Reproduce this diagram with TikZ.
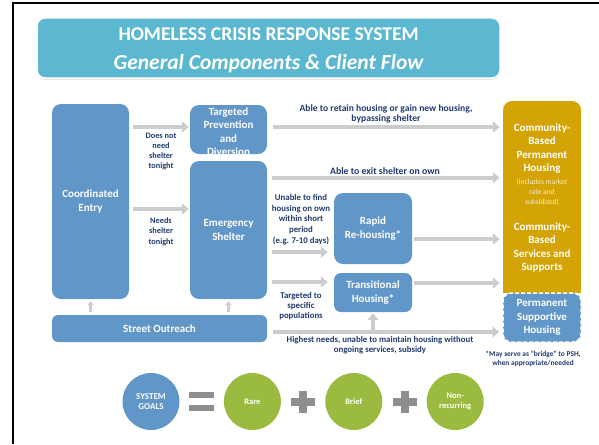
\documentclass[tikz,border=0pt]{standalone}
\usepackage{fontspec}
\setmainfont{Carlito}
\usetikzlibrary{arrows.meta,positioning,calc,shadows}
\definecolor{titleblue}{HTML}{5CB8D0}
\definecolor{boxblue}{HTML}{6196C9}
\definecolor{boxgold}{HTML}{D4A406}
\definecolor{leaf}{HTML}{9BBB40}
\definecolor{flowgray}{HTML}{CCCCCC}
\definecolor{signgray}{HTML}{8E8E8E}
\definecolor{navy}{HTML}{1F3A6E}
\definecolor{paletxt}{HTML}{F8EBC0}
\tikzset{x=1pt, y=-1pt,
  box/.style={fill=boxblue, rounded corners=9pt, text=white, align=center, inner sep=0pt,
    font=\bfseries\fontsize{11}{13.5}\selectfont},
  boxtxt/.style={text=white, align=center, inner sep=0pt, font=\bfseries\fontsize{11}{13.5}\selectfont},
  flow/.style={draw=flowgray, line width=4.5pt, -{Triangle[length=7pt,width=11pt]}},
  upflow/.style={draw=flowgray, line width=2.5pt, -{Triangle[length=4pt,width=6.5pt]}},
  lbl/.style={text=navy, align=center, inner sep=0pt, font=\bfseries\fontsize{8.8}{10}\selectfont},
  goal/.style={circle, minimum size=57pt, inner sep=0pt, text=white, align=center,
    font=\bfseries\fontsize{8.5}{10}\selectfont},
}

\begin{document}
\begin{tikzpicture}
  \useasboundingbox (0,0) rectangle (599,444);
  \draw[line width=2pt] (12.5,444) -- (12.5,3.5) -- (599,3.5);

  % title
  \node[fill=titleblue, draw=white, line width=1.5pt, rounded corners=8pt,
        drop shadow={shadow xshift=0pt, shadow yshift=-1.5pt, opacity=.3},
        minimum width=463pt, minimum height=60pt] (ttl) at (268.5,48) {};
  \node[text=white, align=center, inner sep=0pt, font=\bfseries\fontsize{19.5}{29}\selectfont] (ttltxt) at (268.5,50)
    {HOMELESS CRISIS RESPONSE SYSTEM\\{\itshape\fontsize{21.5}{29}\selectfont General Components \& Client Flow}};

  % boxes
  \node[box, minimum width=77pt, minimum height=195pt] (ce) at (90.5,201.5) {Coordinated\\Entry};
  \node[box, minimum width=77pt, minimum height=49pt] (tpd) at (228.5,129.5) {};
  \node[boxtxt] (tpdtxt) at (228.5,131.5) {Targeted\\Prevention\\and\\Diversion};
  \node[box, minimum width=77pt, minimum height=138pt] (es) at (228.5,230) {Emergency\\Shelter};
  \node[box, minimum width=215pt, minimum height=27pt, rounded corners=6pt] (so) at (159.5,328.5) {Street Outreach};
  \node[box, minimum width=78pt, minimum height=71pt] (rrh) at (373,228.5) {Rapid\\Re-housing*};
  \node[box, minimum width=78pt, minimum height=39pt, rounded corners=7pt] (th) at (373,292.5) {Transitional\\Housing*};

  \node[fill=boxgold, rounded corners=9pt, minimum width=78pt, minimum height=192pt, inner sep=0pt] (cbh) at (542,197) {};
  \fill[boxgold] ([yshift=12pt]cbh.south west) rectangle (cbh.south east);
  \node[boxtxt] (cbph) at (542,148.5) {Community-\\Based\\Permanent\\Housing};
  \node[boxtxt, text=paletxt, font=\fontsize{7.5}{10}\selectfont] (cbnote) at (542,192) {(includes market\\rate and\\subsidized)};
  \node[boxtxt] (cbss) at (542,247.5) {Community-\\Based\\Services and\\Supports};
  \node[box, draw=white, line width=1.5pt, dash pattern=on 4pt off 2pt, rounded corners=8pt,
        minimum width=78pt, minimum height=49pt] (psh) at (542,317.5) {Permanent\\Supportive\\Housing};

  % flows
  \draw[flow] ([shift={(4,-2.5)}]ce.east |- tpd.west) -- ([shift={(-1,-2.5)}]tpd.west);
  \draw[flow] ([shift={(4,7.5)}]ce.east) -- ([shift={(-1,7.5)}]ce.east -| es.west);
  \draw[flow] ([shift={(6,-2.5)}]tpd.east) -- ([shift={(-3,-2.5)}]tpd.east -| cbh.west);
  \draw[flow] ([shift={(5,17)}]es.north east) -- ([shift={(-3,17)}]es.north east -| cbh.west);
  \draw[flow] ([shift={(5,-12)}]es.east |- rrh.south west) -- ([shift={(-6,-12)}]rrh.south west);
  \draw[flow] ([shift={(5,-10.5)}]es.east |- th.west) -- ([shift={(-6,-10.5)}]th.west);
  \draw[flow] ([shift={(2,10.5)}]rrh.east) -- ([shift={(-3,10.5)}]rrh.east -| cbh.west);
  \draw[flow] ([shift={(2,-9.5)}]th.east) -- ([shift={(-3,-9.5)}]th.east -| cbh.west);
  \draw[flow] ([shift={(6,3.5)}]so.east) -- ([shift={(-3,3.5)}]so.east -| psh.west);
  \draw[flow] ([shift={(0,3.5)}]so.east -| th.south) -- ([shift={(0,1)}]th.south);
  \draw[upflow] ([shift={(0,-3)}]ce.south |- so.north) -- ([shift={(0,2)}]ce.south);
  \draw[upflow] ([shift={(0,-3)}]es.south |- so.north) -- ([shift={(0,2)}]es.south);

  % labels
  \node[lbl, font=\bfseries\fontsize{8.3}{10}\selectfont] (l1) at (161,152) {Does not\\need\\shelter\\tonight};
  \node[lbl, font=\bfseries\fontsize{8.3}{10.5}\selectfont] (l2) at (161,231.5) {Needs\\shelter\\tonight};
  \node[lbl, font=\bfseries\fontsize{9.6}{10}\selectfont] (l3) at (386,114) {Able to retain housing or gain new housing,\\bypassing shelter};
  \node[lbl, font=\bfseries\fontsize{9.8}{10}\selectfont] (l4) at (385,171) {Able to exit shelter on own};
  \node[lbl, font=\bfseries\fontsize{8.8}{10.75}\selectfont] (l5) at (301,219.5) {Unable to find\\housing on own\\within short\\period\\(e.g. 7-10 days)};
  \node[lbl] (l6) at (301,306.5) {Targeted to\\specific\\populations};
  \node[lbl] (l7) at (380,345.5) {Highest needs, unable to maintain housing without\\ongoing services, subsidy};
  \node[lbl, font=\bfseries\fontsize{7.4}{8.5}\selectfont] (fn) at (533,359) {*May serve as ``bridge'' to PSH,\\when appropriate/needed};

  % goals
  \node[goal, fill=boxblue, font=\bfseries\fontsize{9}{10}\selectfont] (sg) at (151,401.5) {SYSTEM\\GOALS};
  \node[goal, fill=leaf, right=44pt of sg] (rare) {Rare};
  \node[goal, fill=leaf, right=44pt of rare] (brief) {Brief};
  \node[goal, fill=leaf, right=44pt of brief] (nonrec) {Non-\\recurring};
  \coordinate (eq) at ($(sg)!.5!(rare)$);
  \fill[signgray] ([shift={(-12.5,-9.5)}]eq) rectangle ([shift={(12.5,-3.5)}]eq);
  \fill[signgray] ([shift={(-12.5,3.5)}]eq) rectangle ([shift={(12.5,9.5)}]eq);
  \foreach \a/\b in {rare/brief, brief/nonrec} {
    \coordinate (pl) at ($(\a)!.5!(\b)$);
    \fill[signgray] ([shift={(-12,-4)}]pl) rectangle ([shift={(12,4)}]pl);
    \fill[signgray] ([shift={(-4,-11)}]pl) rectangle ([shift={(4,11)}]pl);
  }
\end{tikzpicture}
\end{document}
